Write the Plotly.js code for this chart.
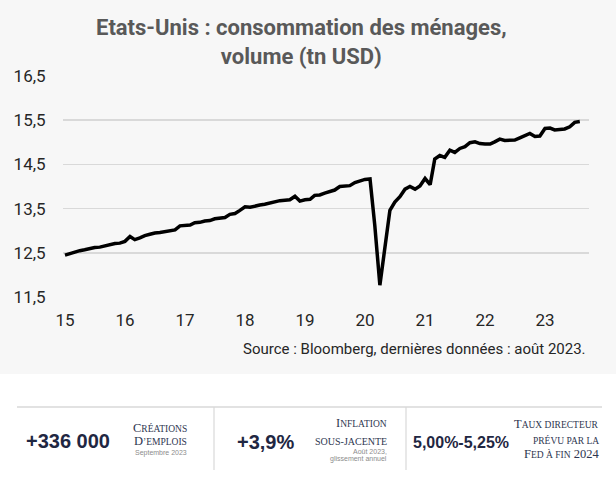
<!DOCTYPE html>
<html>
<head>
<meta charset="utf-8">
<script src="https://cdn.plot.ly/plotly-3.0.1.min.js"></script>
<style>
  html, body { margin: 0; padding: 0; background: #ffffff; }
  #chart { width: 616px; height: 480px; }
</style>
</head>
<body>
<div id="chart"></div>
<script>
// ---- Data (monthly, Jan 2015 -> Aug 2023), tn USD ----
const startYear = 2015, endYear = 2023, endMonth = 8;
const months = [];
for (let y = startYear; y <= endYear; y++) {
  for (let m = 1; m <= 12; m++) {
    if (y === endYear && m > endMonth) break;
    months.push(y + '-' + String(m).padStart(2, '0') + '-01');
  }
}
const volume = [
  12.45, 12.49, 12.52, 12.55, 12.57, 12.60, 12.62, 12.63, 12.66, 12.69, 12.71, 12.72,
  12.76, 12.87, 12.80, 12.84, 12.89, 12.92, 12.95, 12.96, 12.98, 13.00, 13.02, 13.11,
  13.12, 13.13, 13.18, 13.19, 13.22, 13.23, 13.27, 13.29, 13.30, 13.37, 13.39, 13.46,
  13.54, 13.53, 13.56, 13.58, 13.60, 13.63, 13.66, 13.68, 13.69, 13.70, 13.78, 13.67,
  13.70, 13.71, 13.80, 13.81, 13.85, 13.88, 13.92, 14.00, 14.01, 14.02, 14.09, 14.12,
  14.16, 14.17, 13.12, 11.77, 12.62, 13.46, 13.65, 13.77, 13.94, 14.00, 13.94, 14.01,
  14.18, 14.04, 14.62, 14.70, 14.66, 14.82, 14.77, 14.86, 14.90, 14.99, 15.01, 14.97,
  14.96, 14.96, 15.01, 15.07, 15.04, 15.04, 15.05, 15.10, 15.16, 15.20, 15.13, 15.14,
  15.31, 15.32, 15.28, 15.29, 15.30, 15.35, 15.45, 15.47
];
const yTickVals = [11.5, 12.5, 13.5, 14.5, 15.5, 16.5];
const yRange = [11.48, 16.52];
const xRange = ['2014-12-20', '2023-09-26'];

const titleText = '<b>Etats-Unis : consommation des ménages,<br>volume (tn USD)</b>';
const sourceText = 'Source : Bloomberg, dernières données : août 2023.';

// Key figures panel
const kpiValues = ['+336 000', '+3,9%', '5,00%-5,25%'];

// ---- Layout helpers (pixel -> paper) ----
const W = 616, H = 480;
const M = {l: 63, r: 27, t: 75, b: 182};
const PW = W - M.l - M.r, PH = H - M.t - M.b;
const xp = px => (px - M.l) / PW;
const yp = py => (H - M.b - py) / PH;

const navy = '#1f2742';
const capsCol = '#2e3650';
const big = 12.5, small = 9.5;
const sc = (first, rest) => first + (rest ? '<span style="font-size:' + small + 'px">' + rest + '</span>' : '');

function ann(text, x, y, opts) {
  return Object.assign({
    text: text, xref: 'paper', yref: 'paper', x: xp(x), y: yp(y),
    showarrow: false, xanchor: 'right', yanchor: 'bottom', align: 'right',
    font: {family: 'Liberation Serif, Times New Roman, serif', size: big, color: capsCol}
  }, opts || {});
}

const tiny = {family: 'Liberation Sans, Arial, sans-serif', size: 7, color: '#8c8c8c'};
const kpiFont = {family: 'Liberation Sans, Arial, sans-serif', size: 20, color: navy};
const kpiFontSm = {family: 'Liberation Sans, Arial, sans-serif', size: 16, color: navy};

const annotations = [
  // title
  {text: titleText, xref: 'paper', yref: 'paper', x: xp(301.5), y: yp(13), xanchor: 'center', yanchor: 'top',
   align: 'center', showarrow: false,
   font: {family: 'Roboto, sans-serif', size: 22, color: '#595959'}},
  // source
  {text: sourceText, xref: 'paper', yref: 'paper', x: xp(588), y: yp(360), xanchor: 'right', yanchor: 'bottom',
   showarrow: false, font: {family: 'Roboto, sans-serif', size: 15, color: '#262626'}},
  // KPI values
  {text: '<b>' + kpiValues[0] + '</b>', xref: 'paper', yref: 'paper', x: xp(67.5), y: yp(441), xanchor: 'center', yanchor: 'middle', showarrow: false, font: kpiFont},
  {text: '<b>' + kpiValues[1] + '</b>', xref: 'paper', yref: 'paper', x: xp(265), y: yp(442), xanchor: 'center', yanchor: 'middle', showarrow: false, font: kpiFont},
  {text: '<b>' + kpiValues[2] + '</b>', xref: 'paper', yref: 'paper', x: xp(461), y: yp(442), xanchor: 'center', yanchor: 'middle', showarrow: false, font: kpiFontSm},
  // block 1
  ann(sc('C', 'RÉATIONS'), 189, 437),
  ann(sc('D', '’EMPLOIS'), 189, 450),
  ann('Septembre 2023', 189, 459, {font: tiny}),
  // block 2
  ann(sc('I', 'NFLATION'), 389, 432),
  ann('<span style="font-size:10px">SOUS-JACENTE</span>', 389, 449),
  ann('Août 2023,', 389, 457, {font: tiny}),
  ann('glissement annuel', 389, 465, {font: tiny}),
  // block 3
  ann(sc('T', 'AUX DIRECTEUR'), 601, 433),
  ann('<span style="font-size:' + small + 'px">PRÉVU PAR LA</span>', 601, 448),
  ann(sc('F', 'ED À FIN') + ' 2024', 601, 463)
];

const shapes = [
  // light grey chart background
  {type: 'rect', xref: 'paper', yref: 'paper', x0: xp(0), x1: xp(W), y0: yp(374), y1: yp(0),
   fillcolor: '#f7f7f7', line: {width: 0}, layer: 'below'},
  // panel lines
  {type: 'line', xref: 'paper', yref: 'paper', x0: xp(17), x1: xp(602), y0: yp(407), y1: yp(407),
   line: {color: '#d9d9d9', width: 1.5}},
  {type: 'line', xref: 'paper', yref: 'paper', x0: xp(214), x1: xp(214), y0: yp(407), y1: yp(470),
   line: {color: '#d9d9d9', width: 1.2}},
  {type: 'line', xref: 'paper', yref: 'paper', x0: xp(406), x1: xp(406), y0: yp(407), y1: yp(470),
   line: {color: '#d9d9d9', width: 1.2}}
];

const trace = {
  x: months, y: volume, type: 'scatter', mode: 'lines',
  line: {color: '#000000', width: 3.5, shape: 'linear'},
  hoverinfo: 'skip'
};

const layout = {
  width: W, height: H,
  margin: M,
  paper_bgcolor: '#ffffff',
  plot_bgcolor: 'rgba(0,0,0,0)',
  separators: ', ',
  showlegend: false,
  xaxis: {
    type: 'date', range: xRange, tick0: '2015-01-01', dtick: 'M12', tickformat: '%y',
    showgrid: false, zeroline: false, showline: false,
    ticks: 'outside', ticklen: 7, tickcolor: 'rgba(0,0,0,0)',
    tickfont: {family: 'Roboto, sans-serif', size: 17, color: '#262626'},
    fixedrange: true
  },
  yaxis: {
    range: yRange, tickvals: yTickVals, tickformat: '.1f',
    showgrid: true, gridcolor: '#d9d9d9', gridwidth: 1.5,
    zeroline: false, showline: false,
    ticks: 'outside', ticklen: 13, tickcolor: 'rgba(0,0,0,0)',
    tickfont: {family: 'Roboto, sans-serif', size: 17, color: '#262626'},
    fixedrange: true
  },
  shapes: shapes,
  annotations: annotations
};

Plotly.newPlot('chart', [trace], layout, {displayModeBar: false, staticPlot: true});
</script>
</body>
</html>
